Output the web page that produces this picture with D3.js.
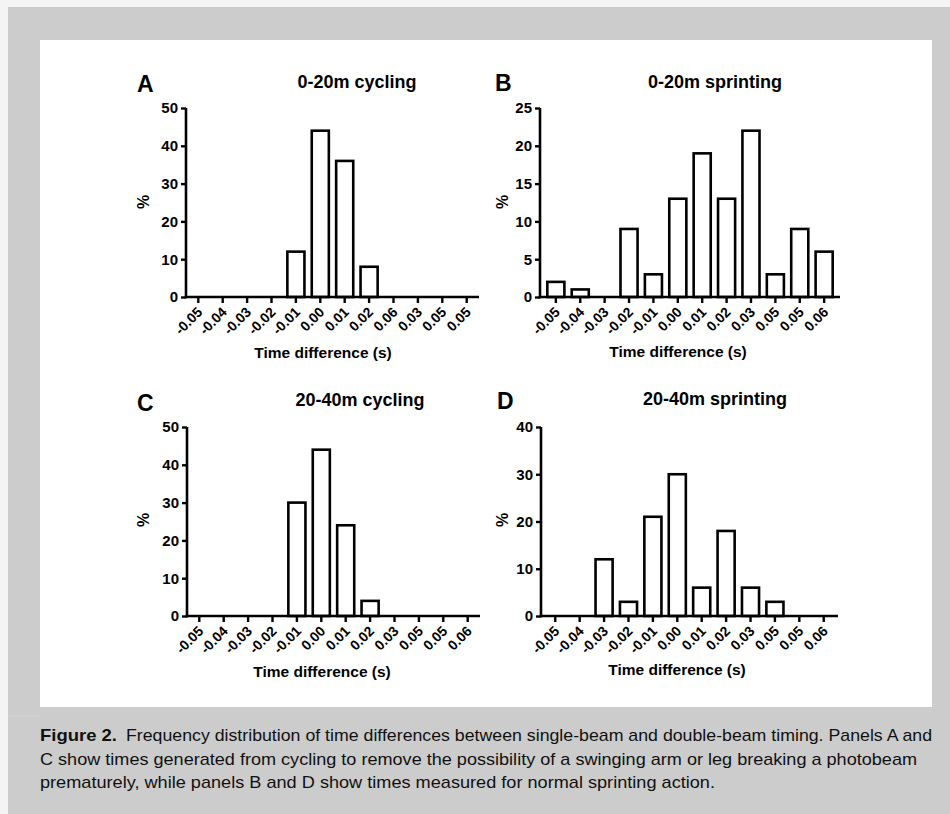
<!DOCTYPE html>
<html>
<head>
<meta charset="utf-8">
<script src="https://cdn.jsdelivr.net/npm/d3@7"></script>
<style>
  html, body { margin: 0; padding: 0; background: #ffffff; }
  svg { display: block; }
  text { font-family: "Liberation Sans", Arial, Helvetica, sans-serif; }
</style>
</head>
<body>
<svg id="chart" width="950" height="814"></svg>
<script>
// ---------- DATA ----------
const catsA = ["-0.05","-0.04","-0.03","-0.02","-0.01","0.00","0.01","0.02","0.06","0.03","0.05","0.05"];
const valsA = [0, 0, 0, 0, 12, 44, 36, 8, 0, 0, 0, 0];
const yTicksA = [0, 10, 20, 30, 40, 50];

const catsB = ["-0.05","-0.04","-0.03","-0.02","-0.01","0.00","0.01","0.02","0.03","0.05","0.05","0.06"];
const valsB = [2, 1, 0, 9, 3, 13, 19, 13, 22, 3, 9, 6];
const yTicksB = [0, 5, 10, 15, 20, 25];

const catsC = ["-0.05","-0.04","-0.03","-0.02","-0.01","0.00","0.01","0.02","0.03","0.05","0.05","0.06"];
const valsC = [0, 0, 0, 0, 30, 44, 24, 4, 0, 0, 0, 0];
const yTicksC = [0, 10, 20, 30, 40, 50];

const catsD = ["-0.05","-0.04","-0.03","-0.02","-0.01","0.00","0.01","0.02","0.03","0.05","0.05","0.06"];
const valsD = [0, 0, 12, 3, 21, 30, 6, 18, 6, 3, 0, 0];
const yTicksD = [0, 10, 20, 30, 40];

const titles = ["0-20m cycling", "0-20m sprinting", "20-40m cycling", "20-40m sprinting"];
const letters = ["A", "B", "C", "D"];
const xAxisTitle = "Time difference (s)";
const yAxisTitle = "%";
const captionBold = "Figure 2.";
const captionLines = [
  "Frequency distribution of time differences between single-beam and double-beam timing. Panels A and",
  "C show times generated from cycling to remove the possibility of a swinging arm or leg breaking a photobeam",
  "prematurely, while panels B and D show times measured for normal sprinting action."
];

// ---------- LAYOUT ----------
const panels = [
  { cats: catsA, vals: valsA, ticks: yTicksA, x0: 186, x1: 479, yTop: 108, yBot: 297, po: 0.154,
    letter: [137, 92], title: [357, 88], ylab: [143, 202], xlab: [323, 358] },
  { cats: catsB, vals: valsB, ticks: yTicksB, x0: 540, x1: 840, yTop: 108, yBot: 297, po: 0.30,
    letter: [495, 91], title: [715, 88], ylab: [502, 202], xlab: [678, 357] },
  { cats: catsC, vals: valsC, ticks: yTicksC, x0: 187, x1: 480, yTop: 427, yBot: 616, po: 0.154,
    letter: [137, 411], title: [360, 406], ylab: [143, 520], xlab: [322, 677] },
  { cats: catsD, vals: valsD, ticks: yTicksD, x0: 541, x1: 838, yTop: 427, yBot: 616, po: 0.235,
    letter: [497, 409], title: [715, 405], ylab: [502, 520], xlab: [677, 675] }
];

const svg = d3.select("#chart");

// backgrounds
svg.append("rect").attr("x", 0).attr("y", 0).attr("width", 950).attr("height", 814).attr("fill", "#f4f4f4");
svg.append("rect").attr("x", 8).attr("y", 7).attr("width", 942).attr("height", 807).attr("fill", "#cccccc");
svg.append("rect").attr("x", 40).attr("y", 40).attr("width", 892).attr("height", 667).attr("fill", "#ffffff");
svg.append("line").attr("x1", 8).attr("x2", 40).attr("y1", 716).attr("y2", 716)
  .attr("stroke", "#d6d6d6").attr("stroke-width", 1);

panels.forEach((p, i) => {
  const g = svg.append("g");
  const x = d3.scaleBand().domain(d3.range(p.cats.length)).range([p.x0, p.x1])
    .paddingInner(0.3).paddingOuter(p.po);
  const y = d3.scaleLinear().domain([0, d3.max(p.ticks)]).range([p.yBot, p.yTop]);

  // bars
  const data = p.vals.map((v, k) => ({ k, v })).filter(d => d.v > 0);
  g.selectAll("rect.bar").data(data).enter().append("rect")
    .attr("class", "bar")
    .attr("x", d => x(d.k))
    .attr("y", d => y(d.v))
    .attr("width", x.bandwidth())
    .attr("height", d => y(0) - y(d.v))
    .attr("fill", "#ffffff")
    .attr("stroke", "#000000")
    .attr("stroke-width", 2.6);

  // y axis
  const yAxis = d3.axisLeft(y).tickValues(p.ticks).tickSize(5).tickPadding(3).tickSizeOuter(0);
  const ya = g.append("g").attr("transform", `translate(${p.x0},0)`).call(yAxis);
  ya.select(".domain").attr("stroke-width", 2.6).attr("d", `M0,${y(0) + 1.3}V${y(d3.max(p.ticks))}`);
  ya.selectAll(".tick line").attr("stroke-width", 2.4);
  ya.selectAll(".tick text").attr("font-size", 15).attr("font-weight", "bold")
    .attr("font-family", "Liberation Sans, Arial, sans-serif").attr("fill", "#000");

  // x axis
  const xAxis = d3.axisBottom(x).tickSize(6).tickSizeOuter(0).tickFormat(k => p.cats[k]);
  const xa = g.append("g").attr("transform", `translate(0,${p.yBot})`).call(xAxis);
  xa.select(".domain").attr("stroke-width", 2.6).attr("d", `M${p.x0 - 1.3},0H${p.x1}`);
  xa.selectAll(".tick line").attr("stroke-width", 2.4);
  xa.selectAll(".tick text")
    .attr("font-size", 14).attr("font-weight", "bold")
    .attr("font-family", "Liberation Sans, Arial, sans-serif").attr("fill", "#000")
    .attr("text-anchor", "end")
    .attr("y", 0).attr("dy", 0)
    .attr("transform", "translate(5,16) rotate(-45)");

  // texts
  g.append("text").attr("x", p.letter[0]).attr("y", p.letter[1])
    .attr("font-size", 23).attr("font-weight", "bold").text(letters[i]);
  g.append("text").attr("x", p.title[0]).attr("y", p.title[1]).attr("text-anchor", "middle")
    .attr("font-size", 18).attr("font-weight", "bold").text(titles[i]);
  g.append("text").attr("transform", `translate(${p.ylab[0]},${p.ylab[1]}) rotate(-90)`)
    .attr("text-anchor", "middle").attr("dy", "0.35em")
    .attr("font-size", 16).attr("font-weight", "bold").text(yAxisTitle);
  g.append("text").attr("x", p.xlab[0]).attr("y", p.xlab[1]).attr("text-anchor", "middle")
    .attr("font-size", 15.5).attr("font-weight", "bold").text(xAxisTitle);
});

// caption
const cap = svg.append("g").attr("font-size", 17).attr("fill", "#111");
cap.append("text").attr("x", 40).attr("y", 741).attr("font-weight", "bold")
  .attr("textLength", 77).attr("lengthAdjust", "spacingAndGlyphs").text(captionBold);
const lineY = [741, 765, 788];
const lineX = [126, 40, 40];
const lineEnd = [932, 917, 715];
captionLines.forEach((t, i) => {
  cap.append("text").attr("x", lineX[i]).attr("y", lineY[i])
    .attr("textLength", lineEnd[i] - lineX[i]).attr("lengthAdjust", "spacingAndGlyphs")
    .text(t);
});
</script>
</body>
</html>
